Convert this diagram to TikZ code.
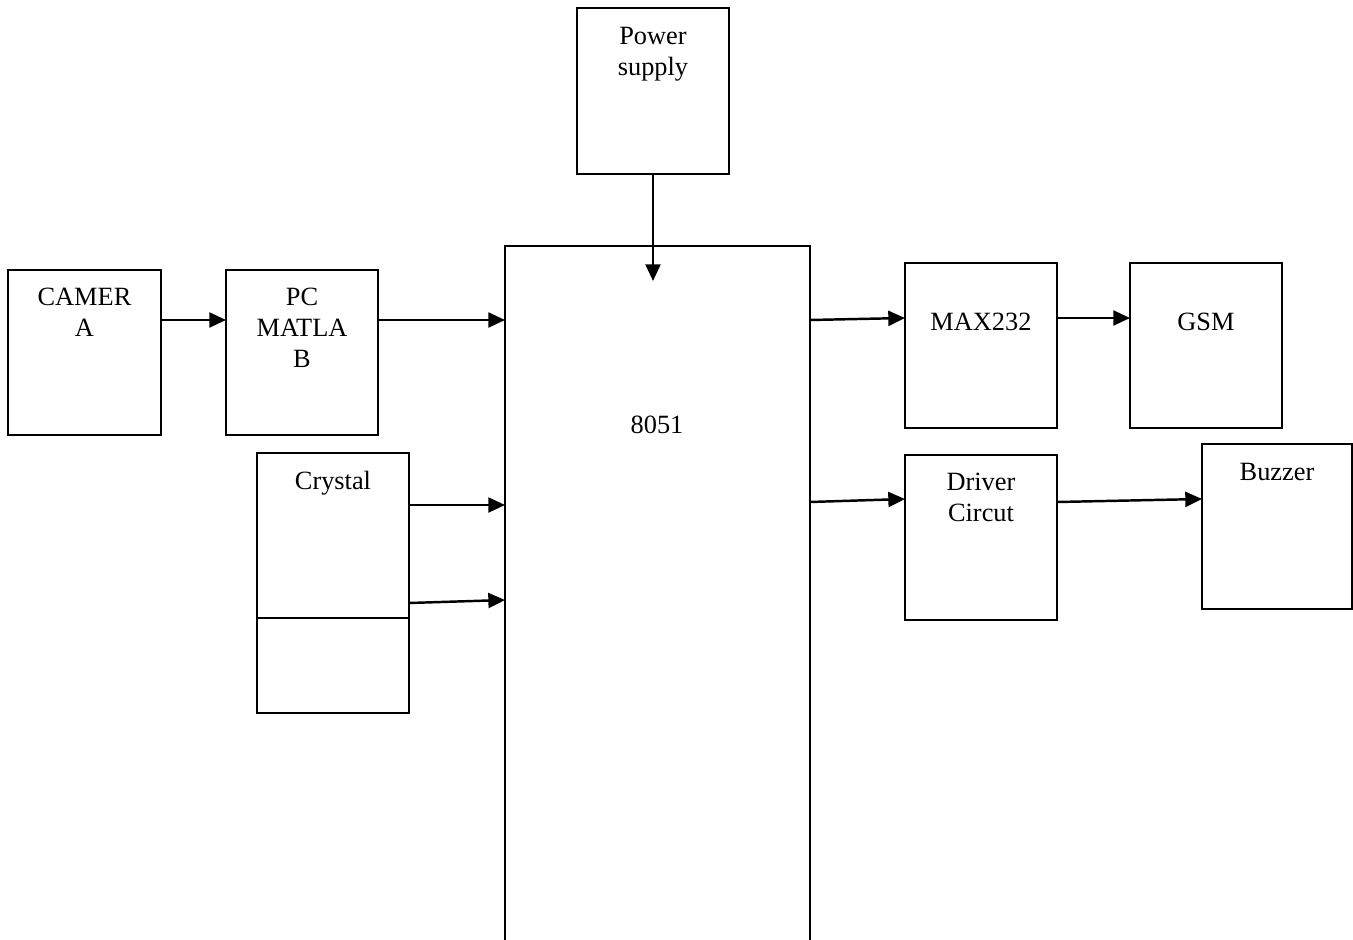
\documentclass[tikz,border=0pt]{standalone}
\usepackage{fontspec}
\setmainfont{Liberation Serif}
\usepackage{tikz}
\usetikzlibrary{positioning, arrows.meta}

\tikzset{
  blk/.style={draw, line width=1.1pt, outer sep=0pt, inner sep=0pt,
              minimum width=3.04cm, minimum height=3.3cm},
  txt/.style={inner sep=0pt, align=center, font=\fontsize{15}{17.6}\selectfont},
  arr/.style={line width=1.4pt, -{Triangle[length=9.5pt, width=8.5pt]}}
}

\begin{document}
\begin{tikzpicture}[x=0.02cm, y=-0.02cm]
  \useasboundingbox (0,0) rectangle (1353,940);

  % blocks
  \node[blk] (power) at (653,91) [minimum height=3.32cm] {};
  \node[blk] (mcu) at (657.5,595.5) [minimum width=6.1cm, minimum height=13.98cm] {};
  \node[blk] (cam) at (84.5,352.5) [minimum width=3.06cm] {};
  \node[blk] (pc) at (302,352.5) {};
  \node[blk] (crys) at (333,535.5) {};
  \node[blk] (crysb) at (333,665.5) [minimum height=1.9cm] {};
  \node[blk] (max) at (981,345.5) {};
  \node[blk] (gsm) at (1206,345.5) {};
  \node[blk] (drv) at (981,537.5) {};
  \node[blk] (buz) at (1277,526.5) [minimum width=3.0cm] {};

  % texts
  \node[txt, below=0.38cm of power.north] (powertxt) {Power\\supply};
  \node[txt] (mcutxt) at (657,425) {8051};
  \node[txt, below=0.36cm of cam.north] (camtxt) {CAMER\\A};
  \node[txt, below=0.36cm of pc.north] (pctxt) {PC\\MATLA\\B};
  \node[txt, below=0.36cm of crys.north] (crystxt) {Crystal};
  \node[txt, below=1.0cm of max.north] (maxtxt) {MAX232};
  \node[txt, below=1.0cm of gsm.north] (gsmtxt) {GSM};
  \node[txt, below=0.36cm of drv.north] (drvtxt) {Driver\\Circut};
  \node[txt, below=0.38cm of buz.north] (buztxt) {Buzzer};

  % connectors
  \draw[arr] (power.south) -- (power.south |- 0,281);
  \draw[arr] (cam.east |- 0,320) -- (pc.west |- 0,320);
  \draw[arr] (pc.east |- 0,320) -- (mcu.west |- 0,320);
  \draw[arr] (crys.east |- 0,505) -- (mcu.west |- 0,505);
  \draw[arr] (crys.east |- 0,603) -- (mcu.west |- 0,600);
  \draw[arr] (mcu.east |- 0,320) -- (max.west |- 0,318);
  \draw[arr] (max.east |- 0,318) -- (gsm.west |- 0,318);
  \draw[arr] (mcu.east |- 0,502) -- (drv.west |- 0,499);
  \draw[arr] (drv.east |- 0,502) -- (buz.west |- 0,499);
\end{tikzpicture}
\end{document}
